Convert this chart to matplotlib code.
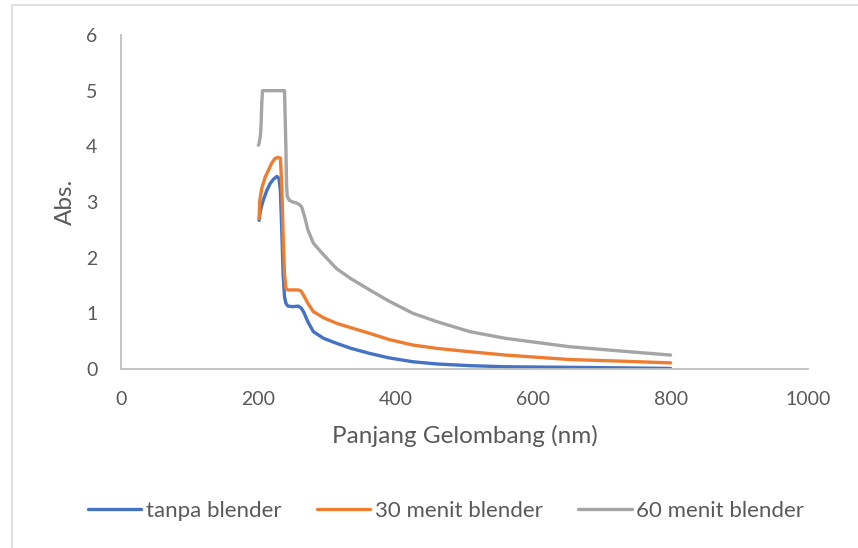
import matplotlib
matplotlib.use("Agg")
import matplotlib.pyplot as plt
from matplotlib.patches import Rectangle

# wavelength (nm) / absorbance
nm_tanpa = [201, 203, 207, 212, 217, 222, 227, 230, 232, 234, 236, 238, 240, 243, 250, 258, 262, 266, 272, 280,
            295, 314, 335, 362, 390, 425, 460, 508, 560, 653, 730, 800]
abs_tanpa = [2.67, 2.85, 3.03, 3.20, 3.33, 3.41, 3.46, 3.42, 3.2, 2.5, 1.7, 1.3, 1.18, 1.13, 1.12, 1.13, 1.10, 1.02, 0.85, 0.67,
             0.55, 0.46, 0.37, 0.28, 0.20, 0.13, 0.09, 0.06, 0.04, 0.03, 0.02, 0.01]

nm_30 = [201, 202, 205, 210, 215, 219, 224, 228, 232, 234, 236, 238, 240, 243, 250, 258, 262, 266, 272, 280,
         295, 314, 335, 362, 390, 425, 460, 508, 560, 653, 730, 800]
abs_30 = [2.70, 3.03, 3.25, 3.45, 3.58, 3.69, 3.78, 3.80, 3.79, 3.3, 2.4, 1.7, 1.45, 1.42, 1.42, 1.42, 1.40, 1.32, 1.18, 1.03,
          0.92, 0.82, 0.74, 0.64, 0.53, 0.43, 0.37, 0.31, 0.25, 0.17, 0.14, 0.11]

nm_60 = [200, 201, 203, 204, 205, 206, 220, 238, 240, 241, 242, 245, 250, 256, 260, 263, 267, 272, 280,
         295, 314, 335, 362, 390, 425, 460, 508, 560, 653, 730, 800]
abs_60 = [4.02, 4.05, 4.2, 4.41, 4.8, 5.0, 5.0, 5.0, 4.0, 3.3, 3.1, 3.03, 3.0, 2.98, 2.95, 2.91, 2.75, 2.5, 2.26,
          2.05, 1.80, 1.62, 1.42, 1.22, 1.00, 0.85, 0.67, 0.55, 0.40, 0.32, 0.25]

labels = ["tanpa blender", "30 menit blender", "60 menit blender"]
colors = ["#4472C4", "#ED7D31", "#A5A5A5"]
xticks = [0, 200, 400, 600, 800, 1000]
yticks = [0, 1, 2, 3, 4, 5, 6]

plt.rcParams['font.family'] = ['Lato', 'DejaVu Sans']
txt = "#595959"

fig = plt.figure(figsize=(8.58, 5.48), dpi=100)
W, H = 858, 548
ax = fig.add_axes([121 / W, 1 - 369 / H, (808 - 121) / W, (369 - 35) / H])

series = [(nm_tanpa, abs_tanpa), (nm_30, abs_30), (nm_60, abs_60)]
for (x, y), lab, c in zip(series, labels, colors):
    ax.plot(x, y, color=c, lw=2.4, label=lab, solid_joinstyle="round", solid_capstyle="round")

ax.set_xlim(0, 1000)
ax.set_ylim(0, 6)
ax.set_xticks(xticks)
ax.set_yticks(yticks)
for s in ["top", "right"]:
    ax.spines[s].set_visible(False)
for s in ["left", "bottom"]:
    ax.spines[s].set_color("#BFBFBF")
    ax.spines[s].set_linewidth(1.3)
ax.tick_params(length=0, labelsize=14, colors=txt)
ax.tick_params(axis="x", pad=16)
ax.tick_params(axis="y", pad=17)
ax.set_xlabel("Panjang Gelombang (nm)", fontsize=17.5, color=txt, labelpad=12)
ax.set_ylabel("Abs.", fontsize=17.5, color=txt, labelpad=7)

ax.legend(loc="center", bbox_to_anchor=(446 / W, 1 - 511 / H), bbox_transform=fig.transFigure,
          ncol=3, frameon=False, fontsize=16, labelcolor=txt, handlelength=2.4, handletextpad=0.2,
          columnspacing=1.6)

fig.patches.append(Rectangle((12 / W, -0.05), 1.1, 1 - 5 / H + 0.05, transform=fig.transFigure,
                             fill=False, edgecolor="#D9D9D9", lw=1.2))

fig.savefig("out.png", dpi=100)
